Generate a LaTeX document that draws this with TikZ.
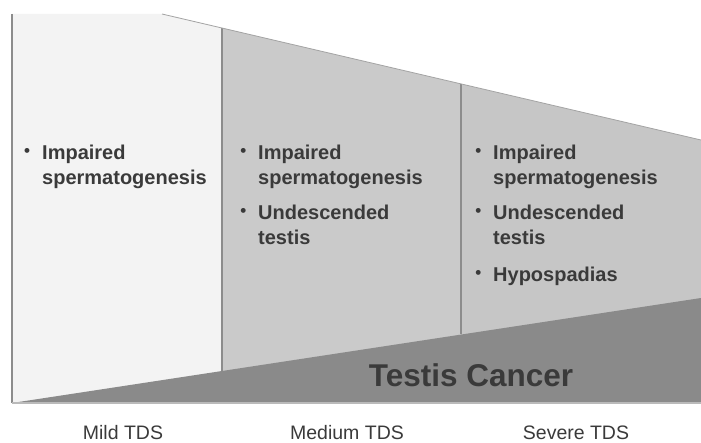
\documentclass[tikz,border=0pt]{standalone}
\usepackage{fontspec}
\setmainfont{Liberation Sans}
\usetikzlibrary{positioning}
\definecolor{mildgray}{HTML}{F3F3F3}
\definecolor{medgray}{HTML}{CACACA}
\definecolor{sevgray}{HTML}{C6C6C6}
\definecolor{cancergray}{HTML}{8A8A8A}
\definecolor{inkgray}{HTML}{3A3A3A}
\definecolor{edgegray}{HTML}{8C8C8C}
\newcommand{\blt}{\llap{\raisebox{3.5pt}{\fontsize{17}{17}\selectfont\textbullet}\hspace{12pt}}}

\begin{document}
\begin{tikzpicture}[x=1pt,y=-1pt,
	item/.style={anchor=north west, inner sep=0pt, align=left, text=inkgray, font=\fontsize{20}{25}\selectfont\bfseries},
	stage/.style={anchor=base, inner sep=0pt, text=inkgray, font=\fontsize{19.5}{24}\selectfont},
	]
	\useasboundingbox (0,0) rectangle (701,443);
	\coordinate (tl) at (12,14);
	\coordinate (tc) at (162,14);
	\coordinate (ta) at (222,28);
	\coordinate (tb) at (461,84);
	\coordinate (tr) at (701,140);
	\coordinate (bl) at (12,403);
	\coordinate (ba) at (222,403);
	\coordinate (bb) at (461,403);
	\coordinate (br) at (701,403);
	\coordinate (cr) at (701,298);
	\coordinate (ca) at (222,371);
	\coordinate (cb) at (461,334);
	
	\fill[mildgray] (tl) -- (tc) -- (ta) -- (ba) -- (bl) -- cycle;
	\fill[medgray] (ta) -- (tb) -- (bb) -- (ba) -- cycle;
	\fill[sevgray] (tb) -- (tr) -- (br) -- (bb) -- cycle;
	\fill[cancergray] (bl) -- (cr) -- (br) -- cycle;
	\draw[edgegray, line width=1.2pt] (ta) -- (ca);
	\draw[edgegray, line width=1.2pt] (tb) -- (cb);
	\draw[edgegray!80, line width=0.8pt] (tc) -- (tr);
	\draw[edgegray, line width=1.8pt] (tl) -- (bl);
	\draw[edgegray!60, line width=1.5pt] (bl) -- (br);
	
	\node[item] (mild1) at (42,145) {\blt Impaired\\spermatogenesis};
	\node[item] (med1) at (258,145) {\blt Impaired\\spermatogenesis};
	\node[item, below right=16pt and 0pt of med1.south west] (med2) {\blt Undescended\\testis};
	\node[item] (sev1) at (493,145) {\blt Impaired\\spermatogenesis};
	\node[item, below right=16pt and 0pt of sev1.south west] (sev2) {\blt Undescended\\testis};
	\node[item, below right=22pt and 0pt of sev2.south west] (sev3) {\blt Hypospadias};
	
	\node[inner sep=0pt, text=inkgray, font=\fontsize{31.5}{32}\selectfont\bfseries] (cancer) at (471,375) {Testis Cancer};
	
	\node[stage] (mild) at (123,439) {Mild TDS};
	\node[stage] (medium) at (347,439) {Medium TDS};
	\node[stage] (severe) at (576,439) {Severe TDS};
\end{tikzpicture}
\end{document}
